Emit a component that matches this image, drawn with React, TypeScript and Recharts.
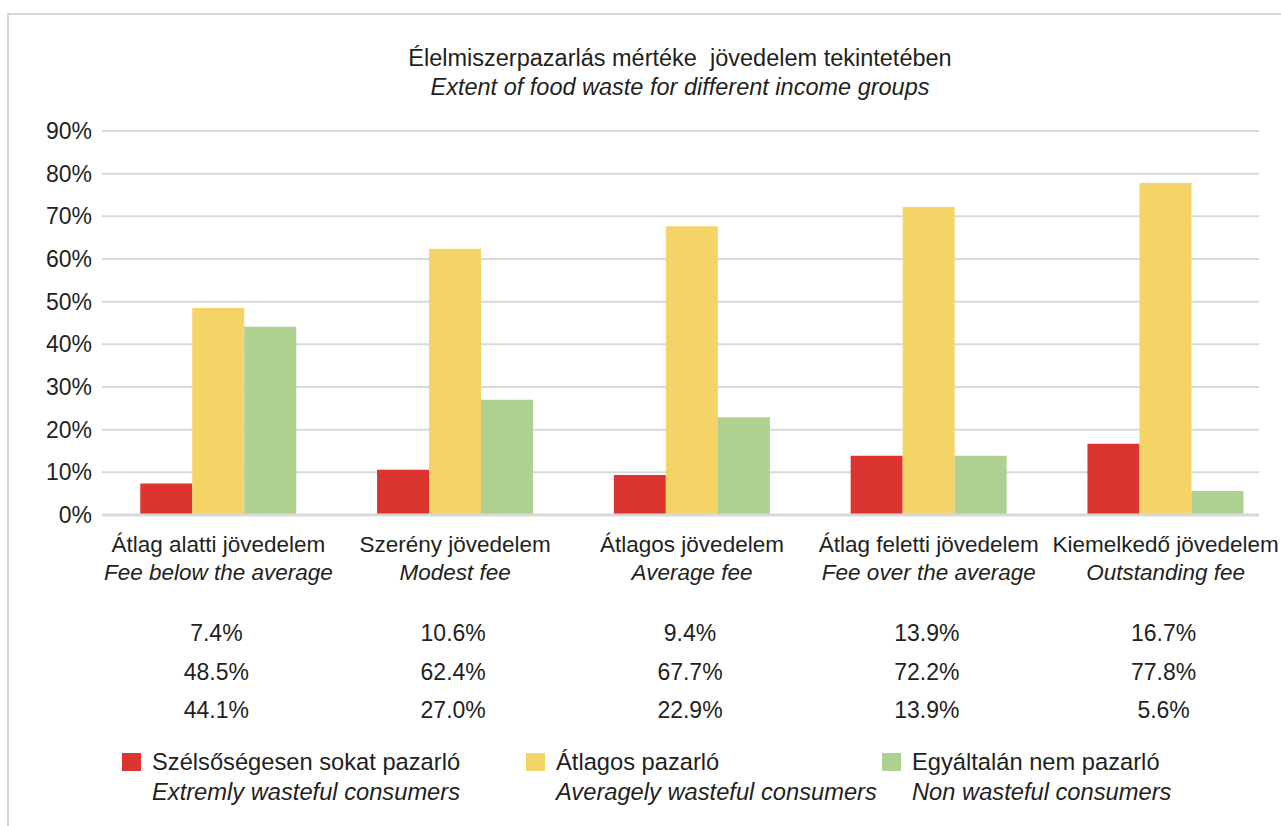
import React from 'react';
import { BarChart, Bar, XAxis, YAxis, CartesianGrid, Legend } from 'recharts';

const categoriesHu = ['Átlag alatti jövedelem', 'Szerény jövedelem', 'Átlagos jövedelem', 'Átlag feletti jövedelem', 'Kiemelkedő jövedelem'];
const categoriesEn = ['Fee below the average', 'Modest fee', 'Average fee', 'Fee over the average', 'Outstanding fee'];
const extremelyWasteful = [7.4, 10.6, 9.4, 13.9, 16.7];
const averagelyWasteful = [48.5, 62.4, 67.7, 72.2, 77.8];
const nonWasteful = [44.1, 27.0, 22.9, 13.9, 5.6];
const yTicks = [0, 10, 20, 30, 40, 50, 60, 70, 80, 90];
const seriesKeys = ['extreme', 'average', 'none'];
const seriesNamesHu = ['Szélsőségesen sokat pazarló', 'Átlagos pazarló', 'Egyáltalán nem pazarló'];
const seriesNamesEn = ['Extremly wasteful consumers', 'Averagely wasteful consumers', 'Non wasteful consumers'];
const seriesColors = ['#dc3530', '#f4d367', '#aed192'];
const seriesValues = [extremelyWasteful, averagelyWasteful, nonWasteful];
const titleHu = 'Élelmiszerpazarlás mértéke  jövedelem tekintetében';
const titleEn = 'Extent of food waste for different income groups';

const data = categoriesHu.map((c, i) => ({
  category: c,
  extreme: extremelyWasteful[i],
  average: averagelyWasteful[i],
  none: nonWasteful[i],
}));

const FONT = '"Liberation Sans", Arial, Helvetica, sans-serif';
const TEXT = '#231f20';
const fmt = (v: number) => v.toFixed(1) + '%';

const CategoryTick = (props: any) => {
  const { x, y, index } = props;
  const rowsY = [118, 157, 195];
  return (
    <g fontFamily={FONT} fill={TEXT}>
      <text x={x} y={y + 29} textAnchor="middle" dominantBaseline="central" fill={TEXT} fontSize={22.5}>
        {categoriesHu[index]}
      </text>
      <text x={x} y={y + 57} textAnchor="middle" dominantBaseline="central" fontStyle="italic" fill={TEXT} fontSize={22.5}>
        {categoriesEn[index]}
      </text>
      {seriesValues.map((vals, s) => (
        <text key={s} x={x - 2} y={y + rowsY[s]} textAnchor="middle" dominantBaseline="central" fill={TEXT} fontSize={23}>
          {fmt(vals[index])}
        </text>
      ))}
    </g>
  );
};

const legendLefts = [122, 526, 882];

const LegendContent = () => (
  <div style={{ position: 'relative', width: 1281, height: 70, fontFamily: FONT, color: TEXT, fontSize: 23.7 }}>
    {seriesKeys.map((k, i) => (
      <div key={k} style={{ position: 'absolute', left: legendLefts[i], top: 0 }}>
        <div style={{ position: 'absolute', left: 0, top: 5, width: 19, height: 18, background: seriesColors[i] }} />
        <div style={{ position: 'absolute', left: 30, top: 0, whiteSpace: 'nowrap', lineHeight: '28px' }}>{seriesNamesHu[i]}</div>
        <div style={{ position: 'absolute', left: 30, top: 30, whiteSpace: 'nowrap', lineHeight: '28px', fontStyle: 'italic' }}>{seriesNamesEn[i]}</div>
      </div>
    ))}
  </div>
);

export default function App() {
  return (
    <div style={{ position: 'absolute', left: 0, top: 0, width: 1281, height: 826, background: '#fff', overflow: 'hidden' }}>
      <div style={{ position: 'absolute', left: 7, top: 13, width: 1274, height: 813, borderTop: '2px solid #d6d6d6', borderLeft: '2px solid #d6d6d6' }} />
      <div style={{ position: 'absolute', left: 0, top: 44, width: 1360, textAlign: 'center', fontFamily: FONT, color: TEXT, fontSize: 23.5, lineHeight: '29px', whiteSpace: 'pre' }}>
        <div>{titleHu}</div>
        <div style={{ fontStyle: 'italic' }}>{titleEn}</div>
      </div>
      <div style={{ position: 'absolute', left: 0, top: 0 }}>
        <BarChart
          width={1281}
          height={826}
          data={data}
          margin={{ top: 131, right: 22, left: 42, bottom: 91 }}
          barCategoryGap="17%"
          barGap={0}
        >
          <CartesianGrid vertical={false} stroke="#d9d9d9" strokeWidth={2} />
          <XAxis
            dataKey="category"
            height={220}
            interval={0}
            tickLine={false}
            tickSize={0}
            tickMargin={0}
            axisLine={{ stroke: '#d9d9d9', strokeWidth: 3 }}
            tick={<CategoryTick />}
            padding={{ left: -2, right: -25 }}
          />
          <YAxis
            width={60}
            domain={[0, 90]}
            ticks={yTicks}
            interval={0}
            tickLine={false}
            axisLine={false}
            tickMargin={4}
            tickFormatter={(v: number) => v + '%'}
            tick={{ fill: TEXT, fontSize: 23, fontFamily: FONT }}
          />
          <Legend
            layout="vertical"
            align="center"
            verticalAlign="middle"
            wrapperStyle={{ position: 'absolute', left: 0, top: 748, width: 1281, height: 70 }}
            content={<LegendContent />}
          />
          {seriesKeys.map((k, i) => (
            <Bar key={k} dataKey={k} name={seriesNamesHu[i]} fill={seriesColors[i]} isAnimationActive={false} />
          ))}
        </BarChart>
      </div>
    </div>
  );
}
